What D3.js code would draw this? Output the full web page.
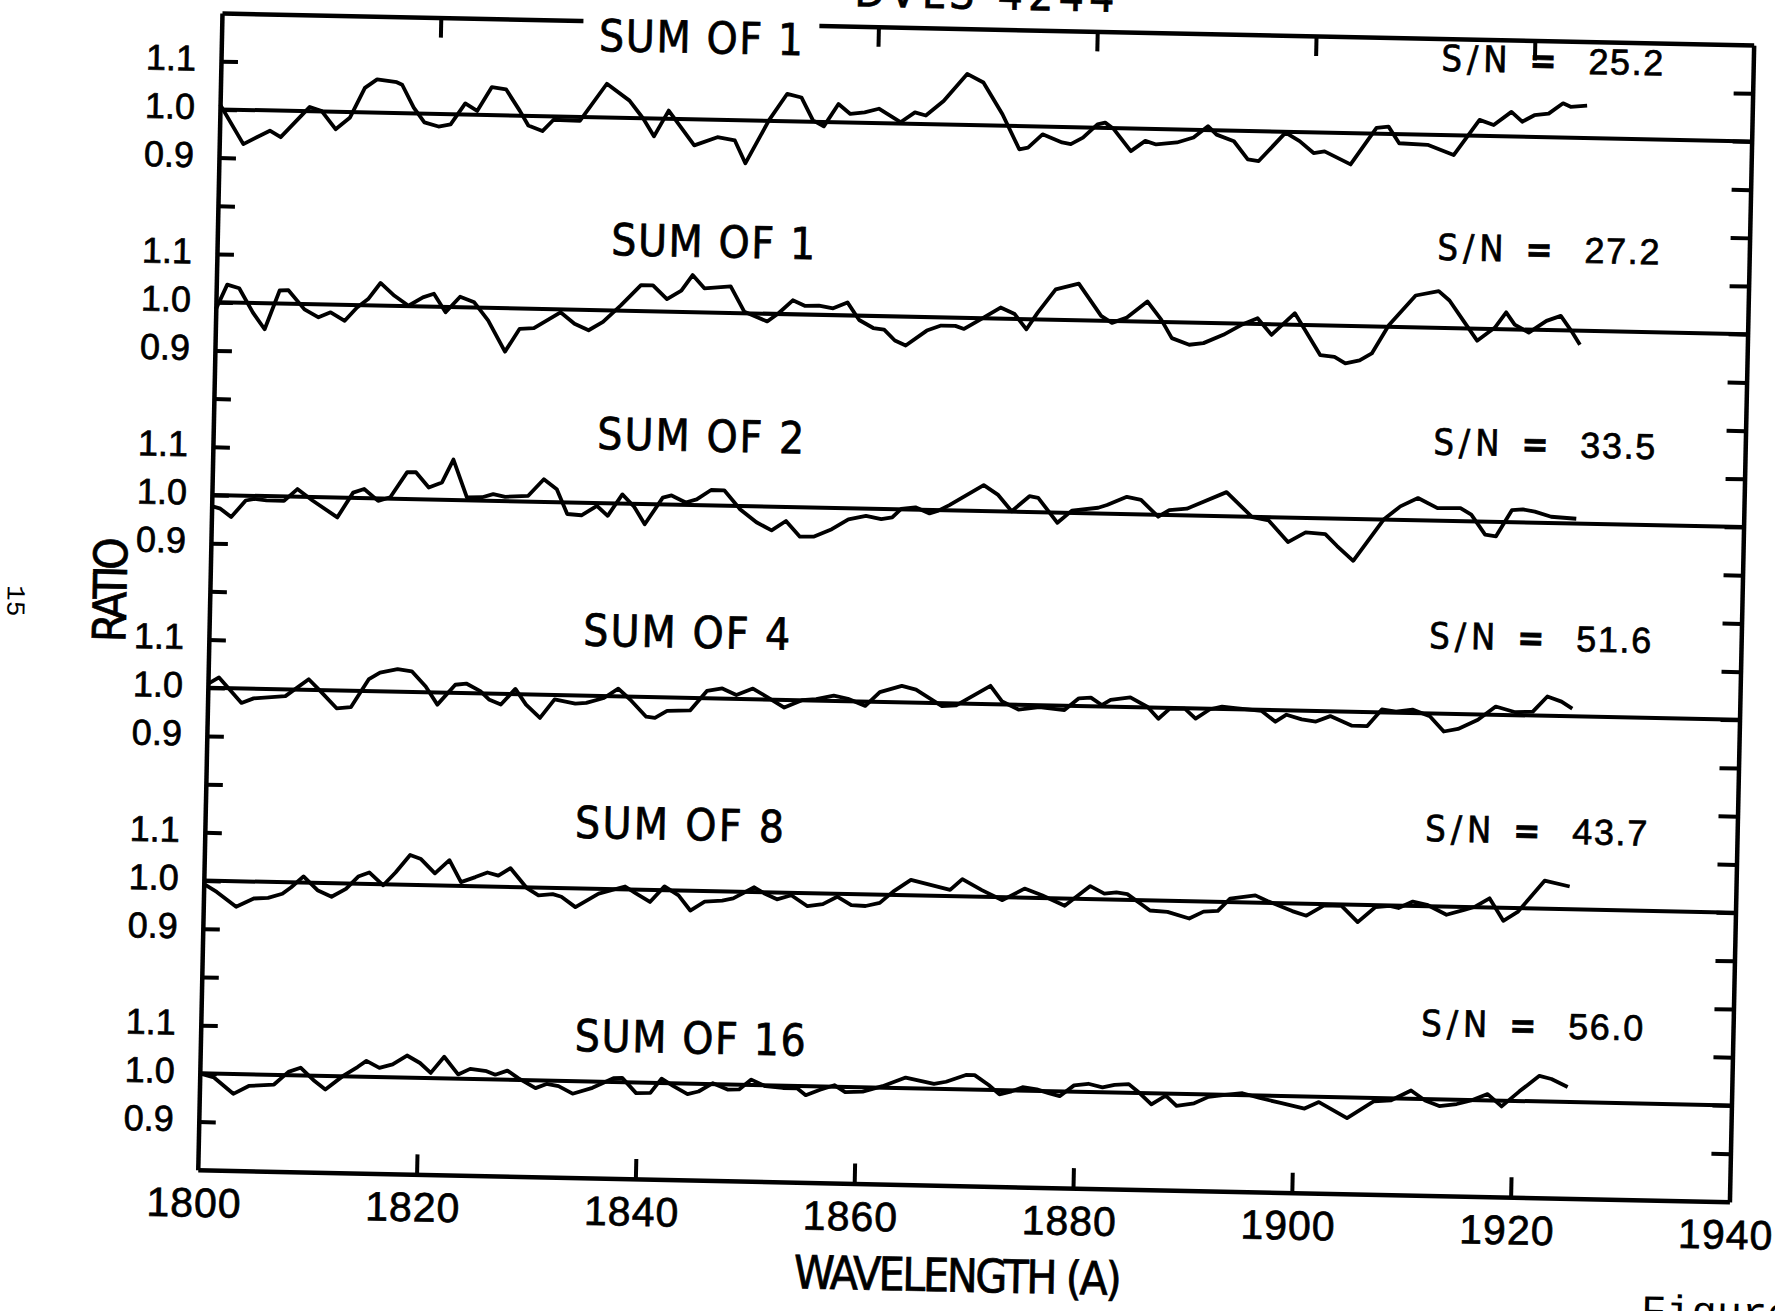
<!DOCTYPE html>
<html>
<head>
<meta charset="utf-8">
<script src="https://cdn.jsdelivr.net/npm/d3@7"></script>
<style>
  body { margin: 0; background: #fff; }
  svg { display: block; }
  .lbl { font-family: "Liberation Sans Narrow", "DejaVu Sans Condensed", "Liberation Sans", sans-serif; fill: #000; stroke: #000; stroke-width: 0.7px; }
  .num { font-family: "Liberation Sans", Arial, sans-serif; fill: #000; stroke: #000; stroke-width: 0.7px; }
  .typed { font-family: "Liberation Mono", "DejaVu Sans Mono", monospace; fill: #000; }
</style>
</head>
<body>
<div id="chart"></div>
<script>
// ---- data: wavelength (A) and ratio for each panel ----
const wl1 = [1800, 1802.2, 1804.6, 1805.6, 1808.2, 1809.3, 1810.6, 1811.9, 1813.2, 1814.3, 1816.1, 1816.6, 1817.7, 1818.7, 1820.0, 1821.1, 1822.4, 1823.5, 1824.8, 1826.1, 1827.4, 1828.2, 1829.5, 1830.5, 1832.9, 1835.3, 1837.4, 1838.7, 1839.7, 1841.0, 1843.4, 1845.5, 1847.1, 1848.1, 1850.2, 1851.8, 1853.1, 1854.2, 1855.2, 1856.5, 1857.6, 1858.9, 1860.2,
  1862.2, 1863.5, 1864.5, 1866.1, 1868.2, 1869.7, 1871.5, 1873.1, 1873.9, 1875.2, 1877.0, 1877.8, 1878.9, 1880.2, 1880.9, 1881.7, 1883.3, 1884.6, 1885.6, 1887.5, 1889.0, 1890.3, 1891.1, 1892.7, 1894.0, 1895.0, 1897.4, 1898.7, 1900.0, 1901.0, 1903.4, 1905.7, 1906.8, 1907.8, 1910.4, 1912.8, 1915.1, 1916.4, 1918.0, 1919.0, 1920.1, 1921.4, 1922.7, 1923.4, 1924.9];
const r1 = [1.010, 0.929, 0.958, 0.945, 1.009, 1.001, 0.964, 0.989, 1.051, 1.069, 1.064, 1.059, 1.012, 0.982, 0.974, 0.979, 1.023, 1.008, 1.058, 1.054, 1.010, 0.980, 0.969, 0.993, 0.992, 1.070, 1.036, 0.999, 0.963, 1.017, 0.946, 0.964, 0.958, 0.911, 1.002, 1.057, 1.050, 1.003, 0.991, 1.038, 1.018, 1.022, 1.030,
  1.003, 1.024, 1.018, 1.049, 1.106, 1.089, 1.024, 0.952, 0.956, 0.984, 0.968, 0.965, 0.979, 1.007, 1.011, 0.998, 0.953, 0.975, 0.968, 0.973, 0.984, 1.008, 0.991, 0.978, 0.941, 0.938, 0.998, 0.981, 0.957, 0.961, 0.935, 1.012, 1.015, 0.981, 0.979, 0.959, 1.033, 1.023, 1.051, 1.031, 1.045, 1.049, 1.071, 1.064, 1.067];

const wl2 = [1800.0, 1801.0, 1802.1, 1803.4, 1804.5, 1805.8, 1806.6, 1808.1, 1809.4, 1810.5, 1811.8, 1812.9, 1813.9, 1815.0, 1816.3, 1817.6, 1818.9, 1819.9, 1821.0, 1822.3, 1823.6, 1824.9, 1826.5, 1827.8, 1829.1, 1831.5, 1832.8, 1834.1, 1835.4, 1837.0, 1838.8, 1839.9, 1841.2, 1842.5, 1843.5, 1844.6, 1847.0, 1848.3, 1850.4, 1851.4, 1852.7, 1853.8, 1855.1, 1856.4, 1857.7, 1858.8, 1860.1, 1861.1,
  1862.1, 1863.1, 1865.0, 1866.3, 1867.6, 1868.4, 1869.7, 1871.7, 1873.0, 1874.1, 1875.1, 1876.7, 1878.8, 1880.9, 1881.9, 1883.2, 1885.1, 1886.4, 1887.4, 1889.0, 1890.3, 1892.1, 1893.7, 1895.2, 1896.5, 1898.6, 1901.0, 1902.3, 1903.3, 1904.6, 1905.7, 1907.2, 1909.6, 1911.7, 1912.7, 1914.0, 1915.3, 1916.9, 1917.9, 1918.7, 1920.0, 1921.6, 1922.9, 1923.9, 1924.7];
const r2 = [0.985, 1.037, 1.030, 0.980, 0.946, 1.027, 1.028, 0.989, 0.973, 0.984, 0.967, 0.995, 1.013, 1.047, 1.021, 1.001, 1.019, 1.027, 0.989, 1.022, 1.011, 0.974, 0.910, 0.958, 0.960, 0.994, 0.971, 0.958, 0.976, 1.011, 1.054, 1.054, 1.026, 1.044, 1.077, 1.050, 1.055, 1.003, 0.984, 1.001, 1.029, 1.018, 1.019, 1.014, 1.027, 0.991, 0.975, 0.972,
  0.950, 0.940, 0.972, 0.983, 0.983, 0.977, 0.995, 1.023, 1.010, 0.979, 1.014, 1.063, 1.076, 1.010, 0.996, 1.007, 1.042, 1.005, 0.967, 0.954, 0.958, 0.976, 0.997, 1.012, 0.978, 1.024, 0.938, 0.935, 0.922, 0.929, 0.944, 1.003, 1.066, 1.076, 1.057, 1.016, 0.975, 1.003, 1.035, 1.010, 0.994, 1.019, 1.030, 0.999, 0.971];

const wl3 = [1800.0, 1800.8, 1801.8, 1803.1, 1803.9, 1805.0, 1806.6, 1807.8, 1809.2, 1811.5, 1812.9, 1813.9, 1815.2, 1816.3, 1817.8, 1818.6, 1819.8, 1821.0, 1822.0, 1823.3, 1824.7, 1825.7, 1826.8, 1828.9, 1830.3, 1831.5, 1832.5, 1833.8, 1835.2, 1836.2, 1837.5, 1838.6, 1839.6, 1841.2, 1842.0, 1843.3, 1844.3, 1845.6, 1846.8, 1848.3, 1849.8, 1851.2, 1852.5, 1853.8, 1855.1, 1856.7, 1858.2, 1859.8,
  1861.2, 1862.2, 1863.0, 1864.3, 1865.6, 1866.4, 1867.4, 1870.5, 1871.8, 1873.1, 1874.7, 1875.5, 1877.3, 1878.6, 1881.0, 1881.8, 1883.6, 1884.9, 1886.5, 1887.5, 1889.1, 1892.7, 1895.1, 1896.6, 1898.4, 1900.0, 1901.8, 1902.9, 1904.4, 1907.1, 1908.6, 1910.2, 1912.0, 1914.1, 1915.1, 1916.4, 1917.4, 1918.8, 1919.8, 1920.9, 1922.4, 1924.7];
const r3 = [0.977, 0.972, 0.955, 0.990, 0.994, 0.991, 0.991, 1.016, 0.993, 0.959, 1.011, 1.019, 0.995, 1.003, 1.056, 1.056, 1.025, 1.036, 1.084, 1.006, 1.007, 1.014, 1.009, 1.012, 1.047, 1.027, 0.976, 0.974, 0.994, 0.974, 1.019, 0.994, 0.958, 1.014, 1.019, 1.005, 1.012, 1.032, 1.032, 0.993, 0.967, 0.951, 0.971, 0.939, 0.940, 0.956, 0.977, 0.985,
  0.979, 0.983, 1.001, 1.005, 0.993, 0.999, 1.011, 1.054, 1.035, 1.001, 1.033, 1.030, 0.979, 1.005, 1.012, 1.018, 1.036, 1.030, 0.996, 1.010, 1.014, 1.050, 0.999, 0.993, 0.949, 0.970, 0.967, 0.943, 0.913, 1.000, 1.028, 1.046, 1.026, 1.027, 1.014, 0.973, 0.970, 1.025, 1.027, 1.023, 1.013, 1.010];

const wl4 = [1800.0, 1801.0, 1803.1, 1804.2, 1807.1, 1809.2, 1810.2, 1811.8, 1813.1, 1814.7, 1815.7, 1817.3, 1818.6, 1819.9, 1821.0, 1822.6, 1823.6, 1824.9, 1825.7, 1826.8, 1828.1, 1829.1, 1830.4, 1831.7, 1833.6, 1834.6, 1836.2, 1837.5, 1838.6, 1840.1, 1840.9, 1842.0, 1844.1, 1845.6, 1847.0, 1848.3, 1849.8, 1851.2, 1852.7, 1854.3, 1855.6, 1857.2, 1858.5, 1860.1, 1861.4,
  1863.4, 1864.7, 1867.1, 1868.4, 1871.5, 1872.6, 1874.1, 1876.0, 1878.3, 1879.6, 1880.7, 1881.7, 1882.5, 1884.3, 1885.9, 1886.9, 1887.9, 1889.3, 1890.3, 1891.6, 1892.7, 1893.7, 1896.3, 1897.6, 1898.6, 1900.0, 1901.3, 1902.6, 1904.6, 1906.0, 1907.3, 1908.6, 1910.1, 1911.7, 1913.0, 1914.3, 1916.1, 1917.7, 1919.5, 1921.1, 1922.4, 1923.7, 1924.7];
const r4 = [1.008, 1.022, 0.970, 0.980, 0.986, 1.022, 1.000, 0.963, 0.966, 1.025, 1.039, 1.047, 1.043, 1.012, 0.975, 1.017, 1.020, 1.005, 0.988, 0.978, 1.011, 0.979, 0.952, 0.991, 0.983, 0.985, 0.996, 1.016, 0.994, 0.959, 0.957, 0.972, 0.974, 1.015, 1.021, 1.008, 1.022, 1.004, 0.984, 1.000, 1.003, 1.011, 1.005, 0.991, 1.020,
  1.034, 1.027, 0.994, 0.996, 1.038, 1.006, 0.990, 0.996, 0.991, 1.016, 1.018, 1.003, 1.014, 1.020, 1.001, 0.977, 0.998, 0.999, 0.979, 0.999, 1.005, 1.003, 0.998, 0.976, 0.991, 0.982, 0.978, 0.990, 0.971, 0.971, 1.006, 1.002, 1.007, 0.994, 0.963, 0.969, 0.989, 1.017, 1.006, 1.008, 1.040, 1.030, 1.016];

const wl5 = [1800.0, 1801.2, 1803.0, 1804.6, 1805.9, 1807.2, 1808.0, 1809.1, 1810.4, 1811.7, 1813.0, 1814.1, 1815.1, 1816.4, 1817.5, 1818.8, 1819.8, 1821.1, 1822.4, 1823.5, 1824.8, 1825.9, 1826.9, 1828.0, 1829.5, 1830.6, 1831.9, 1832.7, 1834.0, 1836.1, 1838.5, 1839.5, 1840.8, 1842.1, 1843.4, 1844.5, 1845.8, 1847.4, 1848.4, 1850.3, 1851.3, 1852.4, 1853.7, 1855.2, 1856.6, 1857.9, 1859.2, 1860.5, 1861.8,
  1863.0, 1864.6, 1868.2, 1869.3, 1871.1, 1873.0, 1875.0, 1876.6, 1878.7, 1881.0, 1882.3, 1883.4, 1884.4, 1886.5, 1888.1, 1890.1, 1891.4, 1892.7, 1893.8, 1896.1, 1897.2, 1899.5, 1900.8, 1902.4, 1904.0, 1905.5, 1907.1, 1908.4, 1909.2, 1910.5, 1911.8, 1913.6, 1915.2, 1916.2, 1917.5, 1918.8, 1920.1, 1922.5, 1924.8];
const r5 = [0.993, 0.977, 0.947, 0.965, 0.967, 0.976, 0.990, 1.013, 0.985, 0.972, 0.989, 1.015, 1.024, 0.998, 1.025, 1.062, 1.054, 1.025, 1.053, 1.008, 1.019, 1.029, 1.023, 1.039, 0.999, 0.984, 0.987, 0.982, 0.961, 0.990, 1.006, 0.992, 0.975, 1.008, 0.990, 0.959, 0.978, 0.981, 0.986, 1.010, 0.997, 0.986, 0.995, 0.973, 0.978, 0.994, 0.977, 0.976, 0.983,
  1.007, 1.032, 1.013, 1.036, 1.014, 0.994, 1.019, 1.006, 0.985, 1.027, 1.012, 1.015, 1.012, 0.979, 0.977, 0.964, 0.979, 0.981, 1.007, 1.015, 1.004, 0.984, 0.975, 0.997, 0.997, 0.964, 0.996, 0.999, 0.995, 1.009, 1.003, 0.983, 0.994, 1.001, 1.019, 0.973, 0.992, 1.058, 1.047];

const wl6 = [1800.0, 1801.3, 1803.1, 1804.5, 1806.8, 1808.1, 1809.2, 1810.5, 1811.5, 1813.1, 1814.4, 1815.2, 1816.4, 1817.6, 1818.9, 1820.1, 1821.1, 1822.3, 1823.6, 1824.7, 1826.2, 1827.0, 1828.1, 1829.1, 1830.7, 1831.7, 1832.8, 1834.1, 1835.9, 1837.8, 1838.6, 1839.9, 1841.2, 1842.2, 1843.3, 1844.6, 1845.6, 1846.9, 1848.3, 1849.3, 1850.4, 1851.7, 1853.3, 1854.6, 1855.4, 1856.7, 1858.0, 1859.0, 1860.6,
  1862.4, 1864.5, 1867.1, 1868.2, 1870.0, 1870.8, 1872.1, 1873.1, 1874.2, 1875.2, 1876.5, 1877.6, 1878.6, 1879.9, 1881.2, 1882.5, 1883.6, 1884.9, 1885.9, 1887.0, 1888.3, 1889.3, 1890.9, 1892.2, 1893.7, 1895.3, 1896.9, 1898.7, 1901.0, 1902.3, 1904.9, 1907.3, 1908.9, 1910.7, 1912.0, 1913.3, 1914.9, 1916.2, 1917.7, 1919.0, 1920.6, 1922.4, 1923.5, 1925.0];
const r6 = [1.000, 0.992, 0.959, 0.976, 0.980, 1.007, 1.016, 0.989, 0.972, 1.001, 1.020, 1.033, 1.019, 1.027, 1.046, 1.031, 1.011, 1.045, 1.009, 1.021, 1.017, 1.010, 1.019, 1.004, 0.984, 0.993, 0.989, 0.974, 0.987, 1.008, 1.009, 0.978, 0.979, 1.009, 0.994, 0.978, 0.984, 1.002, 0.989, 0.990, 1.011, 0.998, 0.995, 0.995, 0.981, 0.993, 1.003, 0.989, 0.991,
  1.003, 1.022, 1.010, 1.015, 1.030, 1.030, 1.010, 0.991, 0.998, 1.007, 1.003, 0.996, 0.990, 1.013, 1.017, 1.010, 1.016, 1.018, 1.000, 0.977, 0.996, 0.975, 0.981, 0.995, 1.000, 1.004, 0.995, 0.986, 0.975, 0.989, 0.957, 0.993, 0.996, 1.017, 0.997, 0.986, 0.991, 0.999, 1.013, 0.988, 1.020, 1.053, 1.047, 1.031];

// panel texts
const sumLabels = ["SUM OF 1", "SUM OF 1", "SUM OF 2", "SUM OF 4", "SUM OF 8", "SUM OF 16"];
const snValues = ["25.2", "27.2", "33.5", "51.6", "43.7", "56.0"];
const xTickLabels = [1800, 1820, 1840, 1860, 1880, 1900, 1920, 1940];
const yTickLabels = ["1.1", "1.0", "0.9"];

const wavelengths = [wl1, wl2, wl3, wl4, wl5, wl6];
const ratios = [r1, r2, r3, r4, r5, r6];

// layout (label anchor in data units: [wavelength, ratio level], text width px)
const sumLabelPos = [[1834.5, 1.171, 204], [1836.0, 1.148, 204], [1835.1, 1.145, 207], [1834.2, 1.137, 207], [1833.8, 1.138, 209], [1834.2, 1.096, 231]];
const snLevel = [1.160, 1.168, 1.164, 1.162, 1.162, 1.158];

// ---- dimensions ----
const width = 1775, height = 1311;
const W = 1532, H = 1157;
const originX = 222, originY = 13, tilt = 1.2;   // the scan sits slightly rotated
const panelStep = 0.4;

const svg = d3.select("#chart")
  .append("svg")
    .attr("width", width)
    .attr("height", height);

svg.append("rect").attr("width", width).attr("height", height).attr("fill", "#fff");

const g = svg.append("g")
  .attr("transform", `translate(${originX},${originY}) rotate(${tilt})`);

const x = d3.scaleLinear().domain([1800, 1940]).range([0, W]);
const y = d3.scaleLinear().domain([-1.2, 1.2]).range([H, 0]);
const yp = (v, k) => y(v - panelStep * k);

// title (cut off by the top of the scan, as in the original)
g.append("text").attr("class", "lbl")
  .attr("x", 762).attr("y", -20)
  .attr("text-anchor", "middle")
  .style("font-size", "44px")
  .attr("textLength", 260)
  .text("DVLS 4244");

// axes: ticks every 0.1 on both sides, pointing inward
const yTicks = d3.range(-11, 12).map(d => d / 10);
const xInner = xTickLabels.slice(1, -1);

const styleAxis = sel => {
  sel.selectAll("path").attr("stroke", "#000").attr("stroke-width", 4.5);
  sel.selectAll("line").attr("stroke", "#000").attr("stroke-width", 4);
};

g.append("g")
  .call(d3.axisLeft(y).tickValues(yTicks).tickSizeInner(-17).tickSizeOuter(0).tickFormat(""))
  .call(styleAxis);
g.append("g")
  .attr("transform", `translate(${W},0)`)
  .call(d3.axisRight(y).tickValues(yTicks).tickSizeInner(-19).tickSizeOuter(0).tickFormat(""))
  .call(styleAxis);
g.append("g")
  .attr("transform", `translate(0,${H})`)
  .call(d3.axisBottom(x).tickValues(xInner).tickSizeInner(-20).tickSizeOuter(0).tickFormat(""))
  .call(styleAxis);
g.append("g")
  .call(d3.axisTop(x).tickValues(xInner).tickSizeInner(-20).tickSizeOuter(0).tickFormat(""))
  .call(styleAxis);

// x tick labels
g.append("g").selectAll("text")
  .data(xTickLabels)
  .join("text")
    .attr("class", "num")
    .attr("x", d => x(d) - 3)
    .attr("y", H + 47)
    .attr("text-anchor", "middle")
    .style("font-size", "41px")
    .style("letter-spacing", "1px")
    .text(d => d);

g.append("text").attr("class", "lbl")
  .attr("x", 762).attr("y", H + 106)
  .attr("text-anchor", "middle")
  .style("font-size", "46px")
  .attr("textLength", 328)
  .text("WAVELENGTH (A)");

g.append("text").attr("class", "lbl")
  .attr("transform", "translate(-100,579) rotate(-90)")
  .attr("text-anchor", "middle")
  .attr("dy", "0.36em")
  .style("font-size", "46px")
  .attr("textLength", 105)
  .text("RATIO");

// page number and figure caption typed on the page
g.append("text").attr("class", "typed")
  .attr("transform", "translate(-193,592) rotate(90)")
  .attr("text-anchor", "middle")
  .attr("dy", "0.35em")
  .style("font-size", "26px")
  .text("15");

g.append("text").attr("class", "typed")
  .attr("x", 1446).attr("y", 1281)
  .style("font-size", "42px")
  .text("Figure");

// panels
const line = k => d3.line()
  .x(d => x(d[0]))
  .y(d => yp(d[1], k));

wavelengths.forEach((wl, k) => {
  const pg = g.append("g");
  const pts = d3.zip(wl, ratios[k]);

  // y tick labels
  pg.selectAll("text.tick")
    .data(yTickLabels)
    .join("text")
      .attr("class", "num")
      .attr("x", -25)
      .attr("y", d => yp(+d, k) + 10)
      .attr("text-anchor", "end")
      .style("font-size", "36px")
      .text(d => d);

  // reference line at 1.0
  pg.append("line")
    .attr("x1", x(1800)).attr("x2", x(1940))
    .attr("y1", yp(1.0, k)).attr("y2", yp(1.0, k))
    .attr("stroke", "#000").attr("stroke-width", 4);

  pg.append("path")
    .datum(pts)
    .attr("d", line(k))
    .attr("fill", "none")
    .attr("stroke", "#000")
    .attr("stroke-width", 3.8)
    .attr("stroke-linejoin", "round");

  // "SUM OF n" label (white backing hides the frame where it crosses)
  const [lw, ll, lwidth] = sumLabelPos[k];
  const lx = x(lw), ly = yp(ll, k) + 16;
  if (k === 0) {
    pg.append("rect")
      .attr("x", lx - 16).attr("y", ly - 40)
      .attr("width", lwidth + 32).attr("height", 46)
      .attr("fill", "#fff");
  }
  pg.append("text").attr("class", "lbl")
    .attr("x", lx).attr("y", ly)
    .style("font-size", "44px")
    .attr("textLength", lwidth)
    .attr("lengthAdjust", "spacing")
    .text(sumLabels[k]);

  // S/N label
  const sx = x(1911.5), sy = yp(snLevel[k], k) + 13;
  pg.append("text").attr("class", "lbl")
    .attr("x", sx).attr("y", sy)
    .style("font-size", "36px")
    .attr("textLength", 66)
    .text("S/N");
  pg.append("text").attr("class", "lbl")
    .attr("x", sx + 88).attr("y", sy)
    .style("font-size", "36px")
    .style("font-weight", "bold")
    .text("=");
  pg.append("text").attr("class", "num")
    .attr("x", sx + 147).attr("y", sy)
    .style("font-size", "36px")
    .attr("textLength", 75)
    .text(snValues[k]);
});
</script>
</body>
</html>
